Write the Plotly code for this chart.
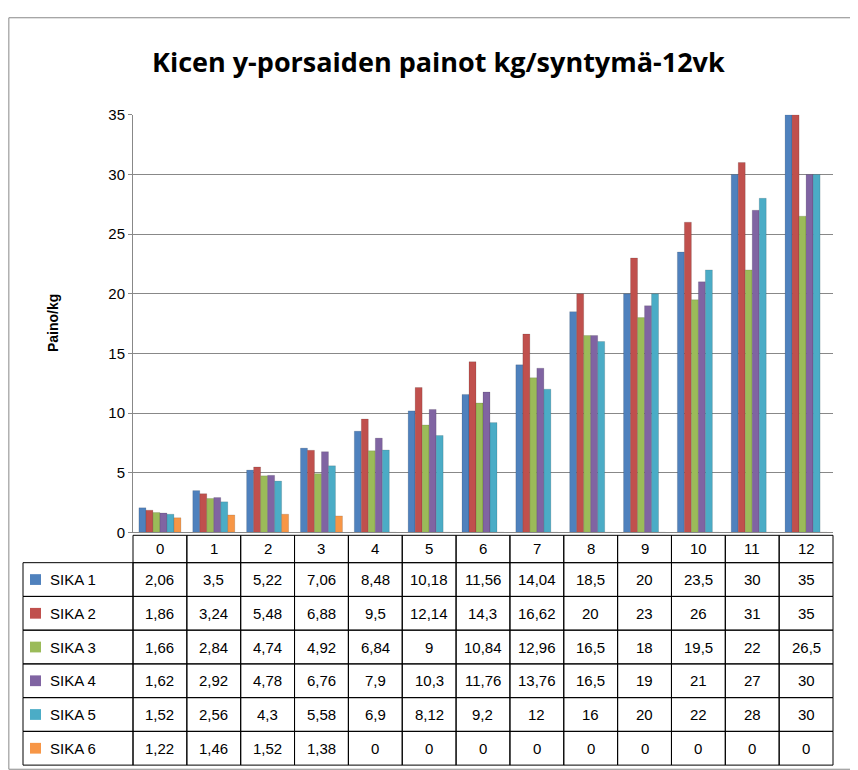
import plotly.graph_objects as go

weeks = ["0","1","2","3","4","5","6","7","8","9","10","11","12"]
series_names = ["SIKA 1","SIKA 2","SIKA 3","SIKA 4","SIKA 5","SIKA 6"]
sika1 = [2.06,3.5,5.22,7.06,8.48,10.18,11.56,14.04,18.5,20,23.5,30,35]
sika2 = [1.86,3.24,5.48,6.88,9.5,12.14,14.3,16.62,20,23,26,31,35]
sika3 = [1.66,2.84,4.74,4.92,6.84,9,10.84,12.96,16.5,18,19.5,22,26.5]
sika4 = [1.62,2.92,4.78,6.76,7.9,10.3,11.76,13.76,16.5,19,21,27,30]
sika5 = [1.52,2.56,4.3,5.58,6.9,8.12,9.2,12,16,20,22,28,30]
sika6 = [1.22,1.46,1.52,1.38,0,0,0,0,0,0,0,0,0]
colors = ["#4F81BD","#C0504D","#9BBB59","#8064A2","#4BACC6","#F79646"]
all_series = [sika1,sika2,sika3,sika4,sika5,sika6]

W, H = 858, 770
px = lambda x: x / W
py = lambda y: 1 - y / H

fig = go.Figure()
for name, vals, c in zip(series_names, all_series, colors):
    fig.add_trace(go.Bar(x=weeks, y=vals, name=name, marker=dict(color=c, line=dict(color="rgba(0,0,0,0.25)", width=0.5))))

x0, x1 = 125, 825
ytop, ybot = 100, 527
fig.update_layout(
    width=W, height=H, margin=dict(l=0, r=0, t=0, b=0),
    paper_bgcolor="white", plot_bgcolor="white", showlegend=False,
    barmode="group", bargap=0.22, bargroupgap=0.0,
    font=dict(family="Liberation Sans, Arial", size=13, color="black"),
    xaxis=dict(domain=[px(x0), px(x1)], showticklabels=False, showline=True, linecolor="#888", ticks=""),
    yaxis=dict(domain=[py(ybot), py(ytop)], range=[0, 35], dtick=5, showgrid=True, gridcolor="#888",
               showline=True, linecolor="#888", ticks="outside", ticklen=4, tickcolor="#888",
               tickfont=dict(size=15)),
)
def ann(text, x, y, **kw):
    kw.setdefault("xanchor", "center")
    fig.add_annotation(text=text, x=px(x), y=py(y), xref="paper", yref="paper", showarrow=False,
                       yanchor="middle", **kw)
ann("<b>Kicen y-porsaiden painot kg/syntymä-12vk</b>", 430, 45, font=dict(size=27, family="Open Sans, Liberation Sans"))
ann("<b>Paino/kg</b>", 45, 313, textangle=-90, font=dict(size=14))

# data table
tl, tr = 15, 825
hy0, hy1 = 530, 558
rb = 765
ncol = len(weeks)
cw = (tr - x0) / ncol
rh = (rb - hy1) / len(series_names)
line = dict(color="black", width=1)
def rect(a, b, c, d):
    fig.add_shape(type="rect", xref="paper", yref="paper", x0=px(a), x1=px(c), y0=py(d), y1=py(b), line=line)
for i, w in enumerate(weeks):
    cx0 = x0 + i * cw
    rect(cx0, hy0, cx0 + cw, hy1)
    ann(w, cx0 + cw / 2, (hy0 + hy1) / 2, font=dict(size=15))
for r, (name, vals, c) in enumerate(zip(series_names, all_series, colors)):
    ry0 = hy1 + r * rh
    rect(tl, ry0, x0, ry0 + rh)
    fig.add_shape(type="rect", xref="paper", yref="paper", x0=px(22), x1=px(33), y0=py(ry0 + rh / 2 + 5.5), y1=py(ry0 + rh / 2 - 5.5),
                  fillcolor=c, line=dict(width=0))
    ann(name, 40, ry0 + rh / 2, xanchor="left", font=dict(size=15))
    for i, v in enumerate(vals):
        cx0 = x0 + i * cw
        rect(cx0, ry0, cx0 + cw, ry0 + rh)
        ann((f"{v:g}").replace(".", ","), cx0 + cw / 2, ry0 + rh / 2, font=dict(size=15))
fig.add_shape(type="rect", xref="paper", yref="paper", x0=0.001, x1=0.999, y0=0.001, y1=0.999, line=dict(color="#888", width=1))
fig.write_html("out.html")
